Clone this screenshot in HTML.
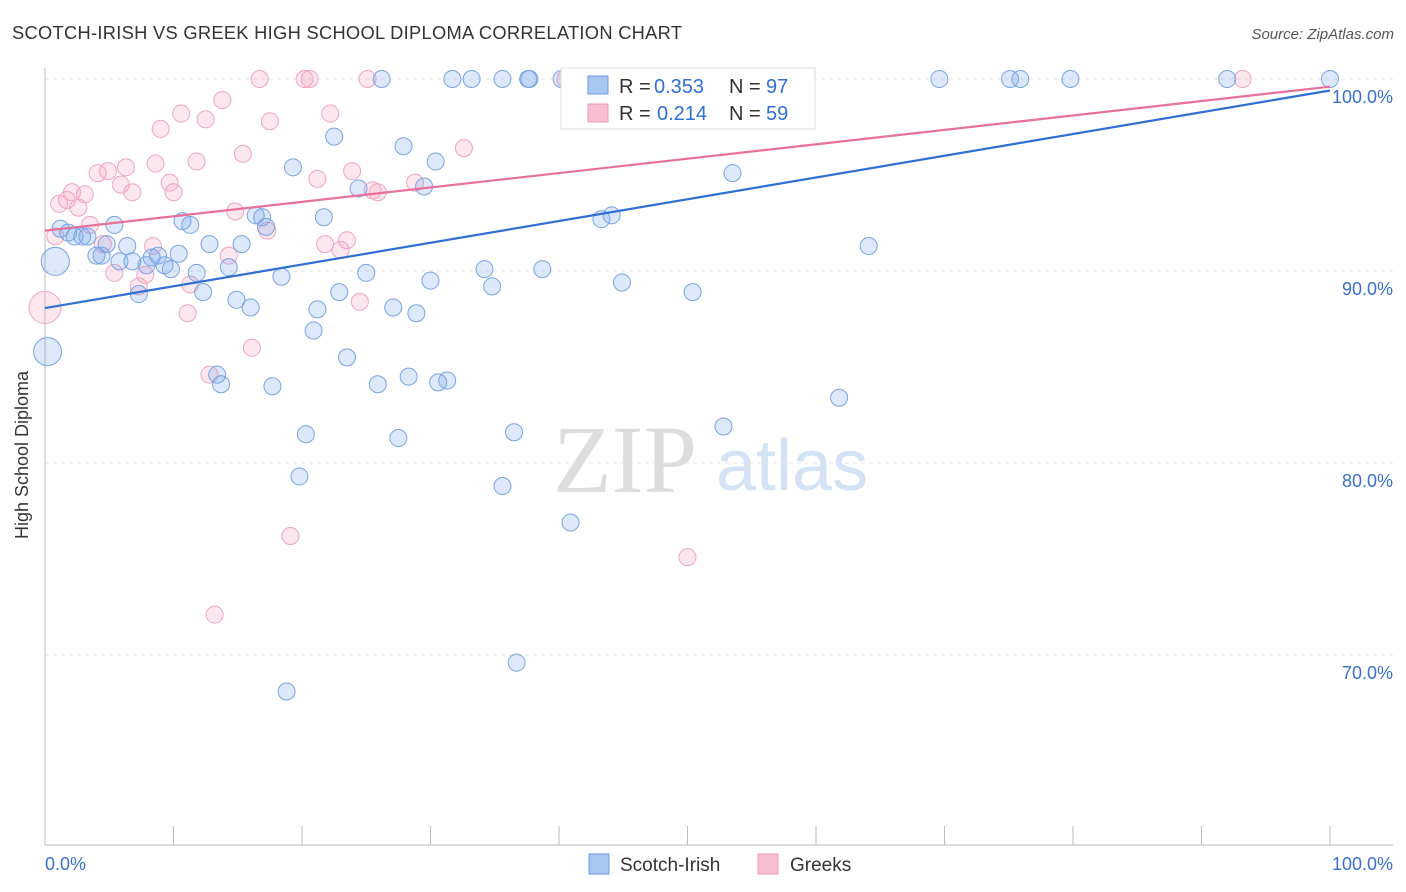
<!DOCTYPE html>
<html><head><meta charset="utf-8"><style>
body{margin:0;background:#fff;font-family:"Liberation Sans",sans-serif;}
#wrap{position:relative;width:1406px;height:892px;overflow:hidden;}
</style></head><body>
<div id="wrap">
<svg id="chart" width="1406" height="892" xmlns="http://www.w3.org/2000/svg">
<text x="12" y="39" font-size="18.3" fill="#333" textLength="670">SCOTCH-IRISH VS GREEK HIGH SCHOOL DIPLOMA CORRELATION CHART</text>
<text x="1394" y="39" font-size="15" fill="#555" font-style="italic" text-anchor="end">Source: ZipAtlas.com</text>
<g>
<text x="553" y="492" font-family="Liberation Serif,serif" font-size="96" fill="#ddd">ZIP</text>
<text x="716" y="490" font-size="72" fill="#d3e2f5">atlas</text>
</g>
<g id="grid"></g><g id="axes"></g><g id="pts"></g><g id="lines"></g>
<text x="28" y="455" font-size="18" fill="#333" text-anchor="middle" transform="rotate(-90 28 455)">High School Diploma</text>
<g>
<rect x="561" y="68" width="254" height="61" fill="#fff" stroke="#ddd"/>
<rect x="588" y="76" width="20" height="18" fill="#a8c6f0" stroke="#6a9ae0"/>
<text x="619" y="93" font-size="20" fill="#333">R =</text>
<text x="654" y="93" font-size="20" fill="#2f6fd6">0.353</text>
<text x="729" y="93" font-size="20" fill="#333">N =</text>
<text x="766" y="93" font-size="20" fill="#2f6fd6">97</text>
<rect x="588" y="104" width="20" height="18" fill="#f8c0d2" stroke="#e89ab5"/>
<text x="619" y="120" font-size="20" fill="#333">R =</text>
<text x="657" y="120" font-size="20" fill="#2f6fd6">0.214</text>
<text x="729" y="120" font-size="20" fill="#333">N =</text>
<text x="766" y="120" font-size="20" fill="#2f6fd6">59</text>
</g>
<g>
<rect x="589" y="854" width="20" height="20" fill="#a8c6f0" stroke="#6a9ae0"/>
<text x="620" y="871" font-size="19" fill="#333">Scotch-Irish</text>
<rect x="758" y="854" width="20" height="20" fill="#f8c0d2" stroke="#e89ab5"/>
<text x="790" y="871" font-size="19" fill="#333">Greeks</text>
</g>
<text x="45" y="870" font-size="18" fill="#3a70cc">0.0%</text>
<text x="1393" y="870" font-size="18" fill="#3a70cc" text-anchor="end">100.0%</text>
</svg>
</div>
<script>
const yTicks=[100,90,80,70];
const yTickLabels=["100.0%","90.0%","80.0%","70.0%"];
const xTicks=[0,10,20,30,40,50,60,70,80,90,100];
const blueX=[0.8,0.2,1.2,1.8,2.3,2.9,3.3,4.0,4.4,4.8,5.4,5.8,6.4,6.8,7.3,7.9,8.3,8.8,9.3,9.8,10.4,10.7,11.3,11.8,12.3,12.8,13.4,13.7,14.3,14.9,15.3,16.0,16.4,16.9,17.2,17.7,18.4,18.8,19.3,19.8,20.3,20.9,21.2,21.7,22.5,22.9,23.5,24.4,25.0,25.9,26.2,27.1,27.5,27.9,28.3,28.9,29.5,30.0,30.4,30.6,31.3,31.7,33.2,34.2,34.8,35.6,35.6,36.5,36.7,37.6,37.7,38.7,40.2,40.9,43.3,44.1,44.9,46.0,50.4,52.8,53.5,61.8,64.1,69.6,75.1,75.9,79.8,92.0,100];
const blueY=[90.5,85.8,92.2,92.0,91.8,91.8,91.8,90.8,90.8,91.4,92.4,90.5,91.3,90.5,88.8,90.3,90.7,90.8,90.3,90.1,90.9,92.6,92.4,89.9,88.9,91.4,84.6,84.1,90.2,88.5,91.4,88.1,92.9,92.8,92.3,84.0,89.7,68.1,95.4,79.3,81.5,86.9,88.0,92.8,97.0,88.9,85.5,94.3,89.9,84.1,100,88.1,81.3,96.5,84.5,87.8,94.4,89.5,95.7,84.2,84.3,100,100,90.1,89.2,78.8,100,81.6,69.6,100,100,90.1,100,76.9,92.7,92.9,89.4,100,88.9,81.9,95.1,83.4,91.3,100,100,100,100,100,100];
const blueSize=[14,14];
const pinkX=[0,0.8,1.1,1.7,2.1,2.6,3.1,3.5,4.1,4.5,4.9,5.4,5.9,6.3,6.8,7.3,7.8,8.4,8.6,9.0,9.7,10.0,10.6,11.1,11.3,11.8,12.5,12.8,13.2,13.8,14.3,14.8,15.4,16.1,16.7,17.3,17.5,19.1,20.2,20.6,21.2,21.8,22.2,23.0,23.5,23.9,24.5,25.1,25.5,25.9,28.8,32.6,40.5,41.4,50.0,51.6,56.0,93.2];
const pinkY=[88.1,91.8,93.5,93.7,94.1,93.3,94.0,92.4,95.1,91.4,95.2,89.9,94.5,95.4,94.1,89.2,89.8,91.3,95.6,97.4,94.6,94.1,98.2,87.8,89.3,95.7,97.9,84.6,72.1,98.9,90.8,93.1,96.1,86.0,100,92.1,97.8,76.2,100,100,94.8,91.4,98.2,91.1,91.6,95.2,88.4,100,94.2,94.1,94.6,96.4,100,100,75.1,100,100,100];
const pinkSize=[16];
const blueTrend=[88.07,99.4];
const pinkTrend=[92.1,99.6];
const X0=45,X1=1330,Y100=79,PXPER=19.2;
const xs=v=>X0+(X1-X0)*v/100;
const ys=v=>Y100+(100-v)*PXPER;
const NS="http://www.w3.org/2000/svg";
function mk(tag,attrs,parent){const e=document.createElementNS(NS,tag);for(const k in attrs)e.setAttribute(k,attrs[k]);document.getElementById(parent).appendChild(e);return e;}
yTicks.forEach((t,i)=>{
  const g=mk('line',{x1:45,x2:1393,y1:ys(t),y2:ys(t),stroke:'#e4e4e4','stroke-dasharray':'4,4'},'grid');
  
  
  const l=mk('text',{x:1393,y:ys(t)+24,'font-size':18,fill:'#3a70cc','text-anchor':'end'},'grid');
  l.textContent=yTickLabels[i];
  
  
});
const ax=mk('line',{x1:45,x2:45,y1:68,y2:845,stroke:'#bbb'},'axes');


const bx=mk('line',{x1:45,x2:1393,y1:845,y2:845,stroke:'#bbb'},'axes');


xTicks.forEach(t=>{
  const k=mk('line',{x1:xs(t),x2:xs(t),y1:826,y2:845,stroke:'#bbb'},'axes');
  
  
});
function pts(X,Y,sizes,fill,stroke,name){
  X.forEach((x,i)=>{
    const c=mk('circle',{cx:xs(x),cy:ys(Y[i]),r:sizes[i]||8.5,fill:fill,stroke:stroke,'stroke-width':1},'pts');
    
    
  });
}
pts(pinkX,pinkY,pinkSize,'rgba(244,160,190,0.25)','#efa5be','point-greeks');
pts(blueX,blueY,blueSize,'rgba(120,165,235,0.25)','#78a4e4','point-scotch-irish');
const tp=mk('line',{x1:xs(0),x2:xs(100),y1:ys(pinkTrend[0]),y2:ys(pinkTrend[1]),stroke:'#e8709a','stroke-width':2.2},'lines');


const tb=mk('line',{x1:xs(0),x2:xs(100),y1:ys(blueTrend[0]),y2:ys(blueTrend[1]),stroke:'#2f6fd6','stroke-width':2.2},'lines');


</script>
</body></html>
